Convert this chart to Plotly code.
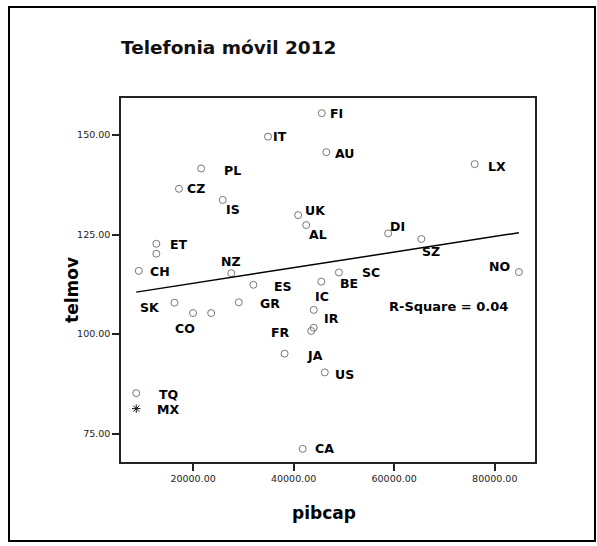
import plotly.graph_objects as go

# ---- data ----
codes = ["FI", "IT", "AU", "LX", "PL", "CZ", "IS", "UK", "AL", "DI", "SZ", "ET", "",
         "CH", "NZ", "NO", "SC", "BE", "IC", "IR", "FR", "ES", "GR", "SK", "CO", "",
         "JA", "US", "TQ", "MX", "CA"]
pibcap = [45600, 34900, 46500, 76000, 21600, 17200, 25900, 40900, 42500, 58800, 65400, 12700, 12700,
          9200, 27600, 84800, 49000, 45500, 44000, 44000, 43500, 32000, 29100, 16300, 20000, 23600,
          38200, 46200, 8700, 8700, 41800]
telmov = [155.5, 149.6, 145.7, 142.7, 141.6, 136.5, 133.7, 129.9, 127.4, 125.3, 123.9, 122.7, 120.2,
          115.9, 115.3, 115.6, 115.5, 113.2, 106.1, 101.6, 100.8, 112.4, 108.0, 107.9, 105.3, 105.3,
          95.1, 90.4, 85.2, 81.3, 71.2]
fit_intercept = 108.85
fit_slope = 0.000196
r_square = 0.04
x_ticks = [20000, 40000, 60000, 80000]
y_ticks = [75, 100, 125, 150]

# ---- styles (label offsets in px: right, down) ----
label_dx = [15, 12, 18, 22, 31, 17, 10, 17, 12, 9, 10, 23, 0,
            21, 0, -19, 32, 28, 8, 18, -31, 30, 31, -24, -8, 0,
            30, 20, 32, 32, 22]
label_dy = [0, 0, 1, 2, 2, 0, 10, -5, 9, -7, 13, 1, 0,
            1, -12, -6, 0, 2, -13, -9, 2, 2, 1, 5, 15, 0,
            2, 2, 1, 1, 0]
symbols = ["asterisk-open" if c == "MX" else "circle-open" for c in codes]
mcolors = ["#111" if c == "MX" else "#777" for c in codes]

W, H = 597, 546
L, R, T, B = 121, 62, 98, 84
PW, PH = W - L - R, H - T - B
FONT = "DejaVu Sans, Verdana, sans-serif"


def px_to_paper(px, py):
    return (px - L) / PW, (H - B - py) / PH


fig = go.Figure()

fig.add_trace(go.Scatter(
    x=pibcap, y=telmov, mode="markers",
    marker=dict(symbol=symbols, size=7, color=mcolors, line=dict(width=1, color=mcolors)),
    showlegend=False, hoverinfo="skip"))

xmin, xmax = min(pibcap), max(pibcap)
fig.add_trace(go.Scatter(
    x=[xmin, xmax], y=[fit_intercept + fit_slope * xmin, fit_intercept + fit_slope * xmax],
    mode="lines", line=dict(color="black", width=1.5), showlegend=False, hoverinfo="skip"))

annotations = []
for c, x, y, dx, dy in zip(codes, pibcap, telmov, label_dx, label_dy):
    if not c:
        continue
    annotations.append(dict(x=x, y=y, xref="x", yref="y", text=c, showarrow=False,
                            xshift=dx, yshift=-dy, xanchor="center", yanchor="middle",
                            font=dict(family=FONT, size=12.5, color="black", weight="bold")))

# R-square label
rx, ry = px_to_paper(448, 306)
annotations.append(dict(x=rx, y=ry, xref="paper", yref="paper", text=f"R-Square = {r_square:.2f}",
                        showarrow=False, xanchor="center", yanchor="middle",
                        font=dict(family=FONT, size=13, color="black", weight="bold")))
# title
tx, ty = px_to_paper(119, 47)
annotations.append(dict(x=tx, y=ty, xref="paper", yref="paper", text="Telefonia móvil 2012",
                        showarrow=False, xanchor="left", yanchor="middle",
                        font=dict(family=FONT, size=18.5, color="#111", weight="bold")))
# axis titles
ax_x, ax_y = px_to_paper(324, 513)
annotations.append(dict(x=ax_x, y=ax_y, xref="paper", yref="paper", text="pibcap",
                        showarrow=False, xanchor="center", yanchor="middle",
                        font=dict(family=FONT, size=17, color="black", weight="bold")))
ay_x, ay_y = px_to_paper(72, 290)
annotations.append(dict(x=ay_x, y=ay_y, xref="paper", yref="paper", text="telmov", textangle=-90,
                        showarrow=False, xanchor="center", yanchor="middle",
                        font=dict(family=FONT, size=17, color="black", weight="bold")))

fx0, fy0 = px_to_paper(9, 541)
fx1, fy1 = px_to_paper(595, 7)
shapes = [dict(type="rect", xref="paper", yref="paper", x0=fx0, y0=fy0, x1=fx1, y1=fy1,
               line=dict(color="black", width=2), layer="above")]

axis_common = dict(showgrid=False, zeroline=False, showline=True, linecolor="#222", linewidth=1.5,
                   mirror=True, ticks="outside", ticklen=7, tickwidth=2, tickcolor="#222",
                   tickformat=".2f", tickfont=dict(family=FONT, size=9.5, color="#222"))

fig.update_layout(
    width=W, height=H, margin=dict(l=L, r=R, t=T, b=B, autoexpand=False),
    paper_bgcolor="white", plot_bgcolor="white",
    xaxis=dict(range=[5670, 88000], tickvals=x_ticks, **axis_common),
    yaxis=dict(range=[67.9, 159.3], tickvals=y_ticks, **axis_common),
    annotations=annotations, shapes=shapes)

fig.write_html("out.html", config={"displayModeBar": False},
               post_script="document.body.style.margin='0';document.body.style.overflow='hidden';")
